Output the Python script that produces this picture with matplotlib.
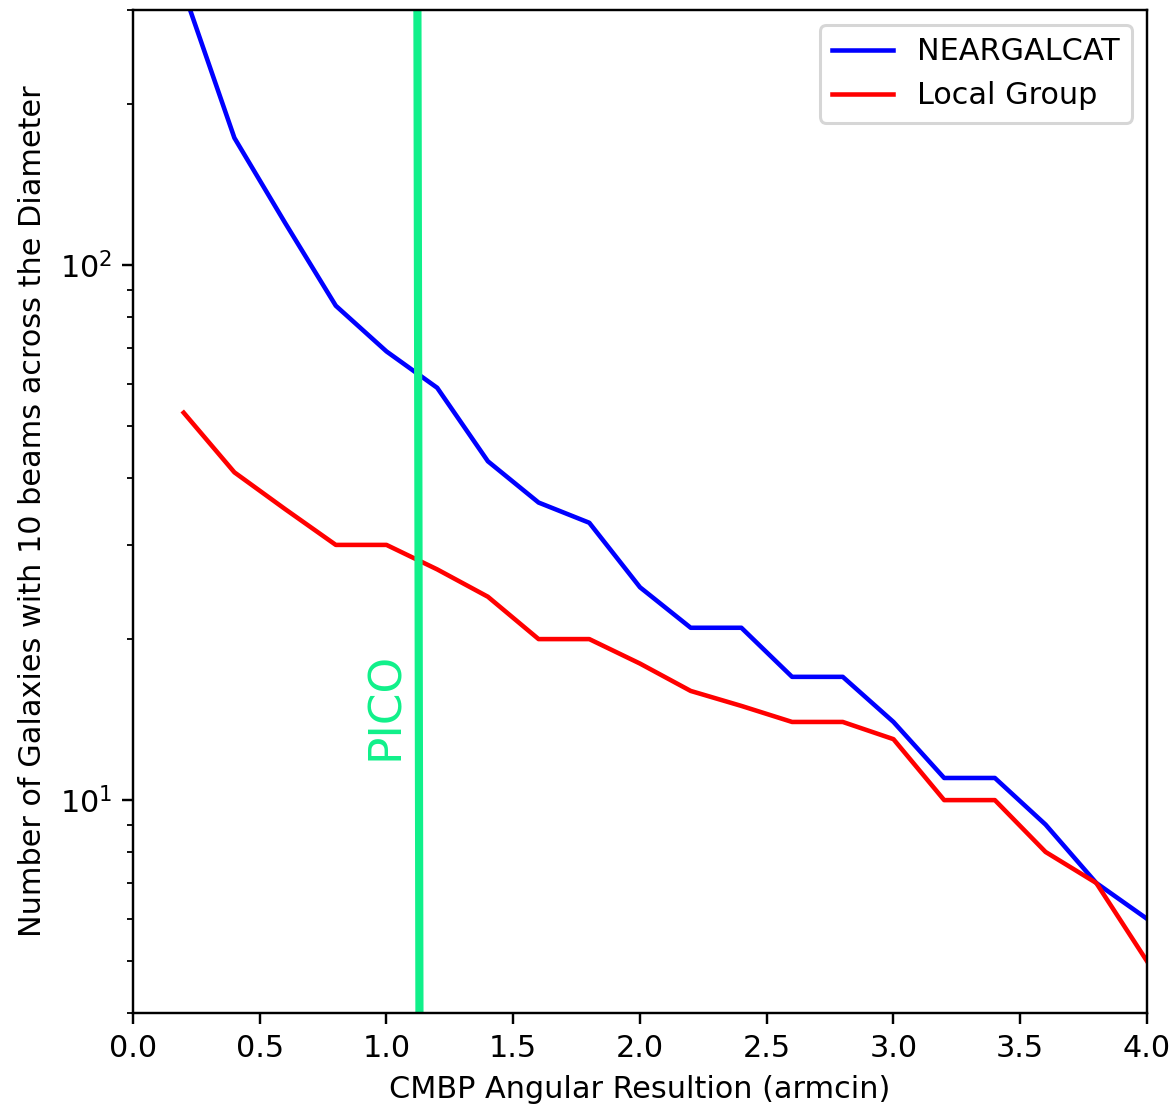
import numpy as np
import matplotlib
matplotlib.use("Agg")
import matplotlib.pyplot as plt


# -------------------------
# DATA
# -------------------------
resolution = [0.2, 0.4, 0.6, 0.8, 1.0, 1.2, 1.4, 1.6, 1.8, 2.0,
              2.2, 2.4, 2.6, 2.8, 3.0, 3.2, 3.4, 3.6, 3.8, 4.0]

n_neargalcat = [325, 173, 120, 84, 69, 59, 43, 36, 33, 25,
                21, 21, 17, 17, 14, 11, 11, 9, 7, 6]

n_local_group = [53, 41, 35, 30, 30, 27, 24, 20, 20, 18,
                 16, 15, 14, 14, 13, 10, 10, 8, 7, 5]

pico_res = 1.125
y_range = (4, 300)


# -------------------------
# PLOT
# -------------------------
DPI = 218
fig = plt.figure(figsize=(1176 / DPI, 1114 / DPI), dpi=DPI)
ax = fig.add_axes([0.1131, 0.0907, 0.8622, 0.9003])

ax.plot(resolution, n_neargalcat, color="blue", label="NEARGALCAT")
ax.plot(resolution, n_local_group, color="red", label="Local Group")

# PICO resolution marker
pico_color = "#10F08A"
ax.plot([pico_res + 0.005, pico_res - 0.003], list(y_range),
        color=pico_color, linewidth=2.7)
ax.text(pico_res - 0.127, 15, "PICO", color=pico_color, fontsize=15,
        rotation=90, ha="center", va="center")

ax.set_yscale("log")
ax.set_xlim(0, 4)
ax.set_ylim(*y_range)

ax.set_xlabel("CMBP Angular Resultion (armcin)")
ax.set_ylabel("Number of Galaxies with 10 beams across the Diameter")
ax.legend(loc="upper right")

fig.savefig("out.png", dpi=DPI)
